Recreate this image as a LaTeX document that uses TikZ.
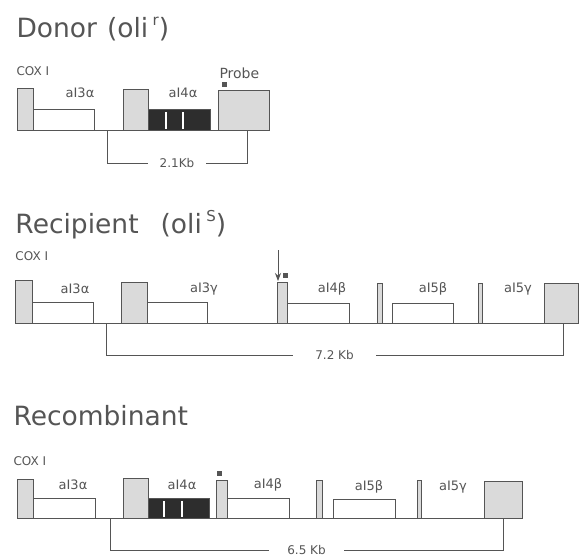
\documentclass[tikz,border=0pt]{standalone}
\usepackage{fontspec}
\setmainfont{DejaVu Sans}
\usepackage{tikz}
\usetikzlibrary{positioning,arrows,arrows.meta}
\definecolor{ink}{RGB}{85,85,85}
\definecolor{stip}{RGB}{218,218,218}
\definecolor{intdark}{RGB}{45,45,45}

\begin{document}
\begin{tikzpicture}[x=1pt,y=-1pt,line width=1pt,color=ink,
    exon/.style={draw=ink,fill=stip},
    introbox/.style={draw=ink,fill=white},
    darkbox/.style={draw=ink,fill=intdark},
    stripe/.style={draw=white,line width=1.6pt},
    title/.style={anchor=base west,inner sep=0pt,text=ink,font=\fontsize{26.5}{30}\selectfont},
    cox/.style={anchor=base west,inner sep=0pt,text=ink,font=\fontsize{12}{14}\selectfont},
    lbl/.style={inner sep=0pt,text=ink,font=\fontsize{13}{15}\selectfont},
    kb/.style={fill=white,inner xsep=12pt,inner ysep=1pt,text=ink,font=\fontsize{12}{14}\selectfont}]
    \useasboundingbox[fill=white] (0,0) rectangle (579,558);

    % Donor
    \node[title] (donor) at (16,37) {Donor\hspace{10pt}(oli\,\raisebox{0.42em}{\fontsize{15}{17}\selectfont r})};
    \node[cox] (coxA) at (16,75) {COX I};
    \draw (17,130) -- (270,130);
    \draw[exon] (17,88) rectangle (33,130);
    \draw[introbox] (33,109) rectangle (94,130);
    \draw[exon] (123,89) rectangle (148,130);
    \draw[darkbox] (148,109) rectangle (210,130);
    \draw[stripe] (166,112) -- (166,129);
    \draw[stripe] (183,112) -- (183,129);
    \draw[exon] (218,90) rectangle (269,130);
    \fill (222,82) rectangle (227,87);
    \node[lbl] (a3A) at (80,93) {aI3α};
    \node[lbl] (a4A) at (183,93) {aI4α};
    \node[cox,font=\fontsize{14}{16}\selectfont] (probe) at (219,78) {Probe};
    \coordinate (kA1) at (107,130);
    \coordinate (kA2) at (247,130);
    \draw (kA1) -- (107,163) -- node[kb] (kbA) {2.1Kb} (247,163) -- (kA2);

    % Recipient
    \node[title] (recip) at (15,233) {Recipient\hspace{22pt}(oli\,\raisebox{0.42em}{\fontsize{15}{17}\selectfont S})};
    \node[cox] (coxB) at (15,260) {COX I};
    \draw (15,323) -- (579,323);
    \draw[exon] (15,280) rectangle (32,323);
    \draw[introbox] (32,302) rectangle (93,323);
    \draw[exon] (121,282) rectangle (147,323);
    \draw[introbox] (147,302) rectangle (207,323);
    \draw[exon] (277,282) rectangle (287,323);
    \draw[introbox] (287,303) rectangle (349,323);
    \draw[exon] (377,283) rectangle (382,323);
    \draw[introbox] (392,303) rectangle (453,323);
    \draw[exon] (478,283) rectangle (482,323);
    \draw[exon] (544,283) rectangle (578.5,323);
    \fill (283,273) rectangle (288,278);
    \coordinate (arrTop) at (278,250);
    \coordinate (arrEnd) at (278,281);
    \draw[-{Stealth[length=8pt,width=6pt]},line width=0.8pt] (arrTop) -- (arrEnd);
    \node[lbl] (a3B) at (75,289) {aI3α};
    \node[lbl] (a3gB) at (204,289) {aI3γ};
    \node[lbl] (a4bB) at (332,289) {aI4β};
    \node[lbl] (a5bB) at (433,289) {aI5β};
    \node[lbl] (a5gB) at (518,289) {aI5γ};
    \coordinate (kB1) at (106,323);
    \coordinate (kB2) at (563,323);
    \draw (kB1) -- (106,355) -- node[kb,inner xsep=22pt] (kbB) {7.2 Kb} (563,355) -- (kB2);

    % Recombinant
    \node[title] (recomb) at (13,425) {Recombinant};
    \node[cox] (coxC) at (13,465) {COX I};
    \draw (17,518) -- (522,518);
    \draw[exon] (17,479) rectangle (33,518);
    \draw[introbox] (33,498) rectangle (95,518);
    \draw[exon] (123,478) rectangle (148,518);
    \draw[darkbox] (148,498) rectangle (209,518);
    \draw[stripe] (164,501) -- (164,517);
    \draw[stripe] (182,501) -- (182,517);
    \draw[exon] (216,480) rectangle (227,518);
    \draw[introbox] (227,498) rectangle (289,518);
    \draw[exon] (316,480) rectangle (322,518);
    \draw[introbox] (333,499) rectangle (395,518);
    \draw[exon] (417,480) rectangle (421,518);
    \draw[exon] (484,481) rectangle (522,518);
    \fill (217,471) rectangle (222,476);
    \node[lbl] (a3C) at (73,485) {aI3α};
    \node[lbl] (a4C) at (182,485) {aI4α};
    \node[lbl] (a4bC) at (268,485) {aI4β};
    \node[lbl] (a5bC) at (369,487) {aI5β};
    \node[lbl] (a5gC) at (453,487) {aI5γ};
    \coordinate (kC1) at (110,518);
    \coordinate (kC2) at (503,518);
    \draw (kC1) -- (110,550) -- node[kb,inner xsep=18pt] (kbC) {6.5 Kb} (503,550) -- (kC2);
\end{tikzpicture}
\end{document}
